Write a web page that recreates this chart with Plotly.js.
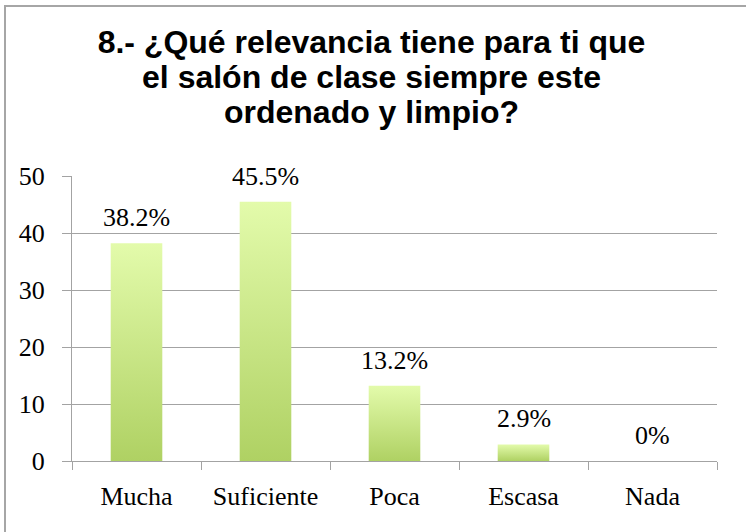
<!DOCTYPE html>
<html>
<head>
<meta charset="utf-8">
<script src="https://cdn.plot.ly/plotly-3.0.1.min.js"></script>
<style>
  html, body { margin: 0; padding: 0; background: #fff; }
  #wrap { position: relative; width: 746px; height: 532px; overflow: hidden; }
  #frame { position: absolute; left: 4px; top: 5px; width: 760px; height: 560px;
           border: 2px solid #a6a6a6; box-sizing: border-box; pointer-events: none; }
  #chart { position: absolute; left: 0; top: 0; width: 746px; height: 532px; }
</style>
</head>
<body>
<div id="wrap">
  <div id="chart"></div>
  <div id="frame"></div>
</div>
<script>
const categories = ['Mucha', 'Suficiente', 'Poca', 'Escasa', 'Nada'];
const values = [38.2, 45.5, 13.2, 2.9, 0];
const valueLabels = values.map(v => v + '%');
const yTicks = [0, 10, 20, 30, 40, 50];
const titleText = '8.- ¿Qué relevancia tiene para ti que<br>el salón de clase siempre este<br>ordenado y limpio?';

const serif = '"Liberation Serif", "Times New Roman", serif';
const gridColor = '#a3a3a3';

const trace = {
  type: 'bar',
  x: categories,
  y: values,
  width: 0.4,
  marker: { color: '#c6e485', line: { width: 0 } },
  hoverinfo: 'none'
};

const annotations = categories.map((c, i) => ({
  x: c, y: values[i], xref: 'x', yref: 'y',
  text: valueLabels[i], showarrow: false,
  yanchor: 'bottom', yshift: 9,
  font: { family: serif, size: 26, color: '#000' }
}));

const layout = {
  width: 746, height: 532,
  margin: { l: 72, r: 29, t: 176, b: 71 },
  paper_bgcolor: 'rgba(0,0,0,0)',
  plot_bgcolor: 'rgba(0,0,0,0)',
  showlegend: false,
  title: {
    text: titleText,
    font: { family: '"Liberation Sans", Arial, sans-serif', size: 32, color: '#000', weight: 'bold' },
    xref: 'container', yref: 'container',
    x: 0.498, xanchor: 'center',
    y: 1 - 53 / 532, yanchor: 'middle'
  },
  xaxis: {
    type: 'category',
    tickson: 'boundaries',
    ticks: 'outside', ticklen: 8, tickwidth: 1, tickcolor: gridColor,
    showline: true, linecolor: gridColor, linewidth: 1,
    showgrid: false, zeroline: false,
    tickfont: { family: serif, size: 26, color: '#000' },
    ticklabelstandoff: 12,
    fixedrange: true
  },
  yaxis: {
    range: [0, 50],
    tickvals: yTicks,
    ticktext: yTicks.map(String),
    ticks: 'outside', ticklen: 9, tickwidth: 1, tickcolor: gridColor,
    showline: true, linecolor: gridColor, linewidth: 1,
    showgrid: true, gridcolor: gridColor, gridwidth: 1,
    zeroline: false,
    tickfont: { family: serif, size: 26, color: '#000' },
    ticklabelstandoff: 12,
    fixedrange: true
  },
  annotations: annotations
};

Plotly.newPlot('chart', [trace], layout, { displayModeBar: false, staticPlot: true }).then(gd => {
  const svg = gd.querySelector('svg.main-svg');
  const ns = 'http://www.w3.org/2000/svg';
  let defs = svg.querySelector('defs');
  if (!defs) { defs = document.createElementNS(ns, 'defs'); svg.insertBefore(defs, svg.firstChild); }
  const grad = document.createElementNS(ns, 'linearGradient');
  grad.setAttribute('id', 'barGrad');
  grad.setAttribute('x1', '0'); grad.setAttribute('y1', '0');
  grad.setAttribute('x2', '0'); grad.setAttribute('y2', '1');
  [['0%', '#e3fbab'], ['100%', '#afd163']].forEach(([o, c]) => {
    const s = document.createElementNS(ns, 'stop');
    s.setAttribute('offset', o); s.setAttribute('stop-color', c);
    grad.appendChild(s);
  });
  defs.appendChild(grad);
  gd.querySelectorAll('.barlayer .point path').forEach(p => {
    p.style.fill = 'url(#barGrad)';
  });
  // tighten title line spacing (Word-style ~1.1 line height)
  const factor = 35 / (1.3 * 32);
  gd.querySelectorAll('.gtitle tspan.line').forEach(t => {
    const dy = t.getAttribute('dy');
    if (dy && dy.endsWith('em')) {
      t.setAttribute('dy', (parseFloat(dy) * factor) + 'em');
    }
  });
});
</script>
</body>
</html>
